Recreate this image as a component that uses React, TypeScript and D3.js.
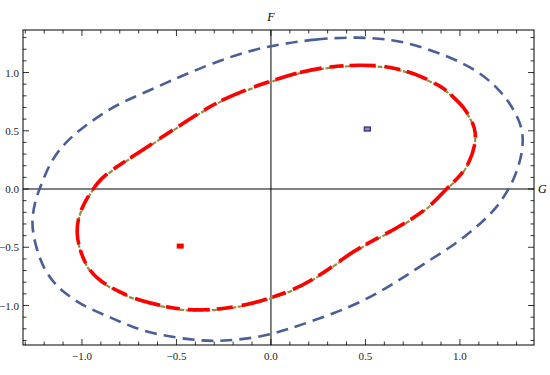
import React, { useEffect, useRef } from "react";
import * as d3 from "d3";

// outer (blue dashed) contour, clockwise from the top
const outerG = [0, 0.24, 0.455, 0.645, 0.8, 0.95, 1.09, 1.195, 1.265, 1.32, 1.335, 1.33, 1.3, 1.26, 1.195, 1.12, 1.04, 0.95, 0.84, 0.72, 0.61, 0.49, 0.33, 0.153, 0.03, -0.095, -0.25, -0.375, -0.59, -0.73, -0.85, -0.975, -1.1, -1.185, -1.23, -1.26, -1.265, -1.245, -1.21, -1.17, -1.11, -1.04, -0.96, -0.87, -0.78, -0.68, -0.55, -0.43, -0.29, -0.15];
const outerF = [1.23, 1.29, 1.305, 1.285, 1.22, 1.13, 1.02, 0.876, 0.74, 0.57, 0.45, 0.31, 0.14, 0, -0.16, -0.28, -0.39, -0.5, -0.61, -0.74, -0.85, -0.96, -1.07, -1.17, -1.235, -1.28, -1.305, -1.305, -1.255, -1.19, -1.1, -1.02, -0.89, -0.74, -0.57, -0.39, -0.25, -0.08, 0.06, 0.22, 0.36, 0.47, 0.57, 0.67, 0.75, 0.82, 0.915, 1.0, 1.09, 1.17];

// inner (red / olive) contour
const innerG = [0, 0.153, 0.31, 0.47, 0.6, 0.68, 0.77, 0.91, 0.96, 1.02, 1.06, 1.085, 1.08, 1.05, 1.0, 0.93, 0.86, 0.76, 0.646, 0.525, 0.418, 0.32, 0.206, 0.1, 0, -0.11, -0.27, -0.43, -0.55, -0.68, -0.78, -0.905, -0.97, -1.01, -1.03, -1.02, -0.99, -0.94, -0.9, -0.84, -0.73, -0.64, -0.52, -0.376, -0.26, -0.11];
const innerF = [0.92, 1.0, 1.045, 1.06, 1.05, 1.02, 0.98, 0.87, 0.79, 0.7, 0.59, 0.49, 0.36, 0.22, 0.1, 0, -0.13, -0.25, -0.36, -0.46, -0.56, -0.68, -0.8, -0.885, -0.94, -0.995, -1.04, -1.05, -1.02, -0.97, -0.91, -0.8, -0.69, -0.54, -0.39, -0.25, -0.13, 0, 0.08, 0.16, 0.275, 0.37, 0.5, 0.65, 0.76, 0.86];

// the two isolated points
const blueMark = [0.51, 0.515];
const redMark = [-0.48, -0.49];

const majorTicks = [-1.0, -0.5, 0.0, 0.5, 1.0];
const minorTicks = d3.range(-13, 14).map((i) => i / 10);

const W = 550;
const H = 375;

function App() {
  const ref = useRef<SVGSVGElement>(null);

  useEffect(() => {
    const svg = d3.select(ref.current);
    svg.selectAll("*").remove();

    const left = 23, right = 534, top = 30, bottom = 345;
    const x = d3.scaleLinear().domain([-1.312, 1.392]).range([left, right]);
    const y = d3.scaleLinear().domain([-1.339, 1.365]).range([bottom, top]);

    const line = d3
      .line<[number, number]>()
      .x((d) => x(d[0]))
      .y((d) => y(d[1]))
      .curve(d3.curveBasisClosed);

    const outer = outerG.map((g, i) => [g, outerF[i]] as [number, number]);
    const inner = innerG.map((g, i) => [g, innerF[i]] as [number, number]);

    // axes through the origin
    svg.append("line").attr("x1", left).attr("x2", right).attr("y1", y(0)).attr("y2", y(0)).attr("stroke", "#000").attr("stroke-width", 1);
    svg.append("line").attr("x1", x(0)).attr("x2", x(0)).attr("y1", top).attr("y2", bottom).attr("stroke", "#000").attr("stroke-width", 1);

    // blue dashed outer curve
    svg.append("path").attr("d", line(outer)).attr("fill", "none")
      .attr("stroke", "#4a5f98").attr("stroke-width", 2.6)
      .attr("stroke-dasharray", "12,7");

    // olive line under the red dashes
    svg.append("path").attr("d", line(inner)).attr("fill", "none")
      .attr("stroke", "#9a8c42").attr("stroke-width", 2.2)
      .attr("stroke-dasharray", "5,1.5");

    svg.append("path").attr("d", line(inner)).attr("fill", "none")
      .attr("stroke", "#ff0000").attr("stroke-width", 3.6)
      .attr("stroke-dasharray", "22,8,14,6,26,9,16,7")
      .attr("transform", "translate(0,-0.8)");

    // isolated points
    svg.append("rect").attr("x", x(blueMark[0]) - 3).attr("y", y(blueMark[1]) - 2)
      .attr("width", 6).attr("height", 4).attr("fill", "#8f88c0")
      .attr("stroke", "#2e2878").attr("stroke-width", 1.2);
    svg.append("rect").attr("x", x(redMark[0]) - 3.5).attr("y", y(redMark[1]) - 2.5)
      .attr("width", 7).attr("height", 5).attr("fill", "#ff0000");

    // frame
    svg.append("rect").attr("x", left).attr("y", top).attr("width", right - left).attr("height", bottom - top)
      .attr("fill", "none").attr("stroke", "#000").attr("stroke-width", 1);

    const tk = svg.append("g").attr("stroke", "#000").attr("stroke-width", 0.8);
    minorTicks.forEach((t) => {
      const major = majorTicks.some((m) => Math.abs(m - t) < 1e-9);
      const len = major ? 6 : 3.5;
      const gx = x(t), fy = y(t);
      if (gx > left && gx < right) {
        tk.append("line").attr("x1", gx).attr("x2", gx).attr("y1", bottom).attr("y2", bottom - len);
        tk.append("line").attr("x1", gx).attr("x2", gx).attr("y1", top).attr("y2", top + len);
      }
      if (fy > top && fy < bottom) {
        tk.append("line").attr("x1", left).attr("x2", left + len).attr("y1", fy).attr("y2", fy);
        tk.append("line").attr("x1", right).attr("x2", right - len).attr("y1", fy).attr("y2", fy);
      }
    });

    const fmt = (v: number) => (v < 0 ? "\u2212" : "") + Math.abs(v).toFixed(1);
    const font = "'Liberation Serif', 'DejaVu Serif', serif";

    majorTicks.forEach((t) => {
      svg.append("text").attr("x", x(t)).attr("y", bottom + 15)
        .attr("text-anchor", "middle").attr("font-family", font).attr("font-size", 11)
        .attr("fill", "#222").text(fmt(t));
      svg.append("text").attr("x", left - 4).attr("y", y(t) + 4)
        .attr("text-anchor", "end").attr("font-family", font).attr("font-size", 11)
        .attr("fill", "#222").text(fmt(t));
    });

    // axis names
    svg.append("text").attr("x", x(0)).attr("y", 21).attr("text-anchor", "middle")
      .attr("font-family", font).attr("font-style", "italic").attr("font-size", 12)
      .text("F");
    svg.append("text").attr("x", 538).attr("y", y(0) + 4)
      .attr("font-family", font).attr("font-style", "italic").attr("font-size", 12)
      .text("G");
  }, []);

  return (
    <svg
      ref={ref}
      width={W}
      height={H}
      style={{ position: "fixed", left: 0, top: 0, background: "#fff" }}
    />
  );
}

export default App;
